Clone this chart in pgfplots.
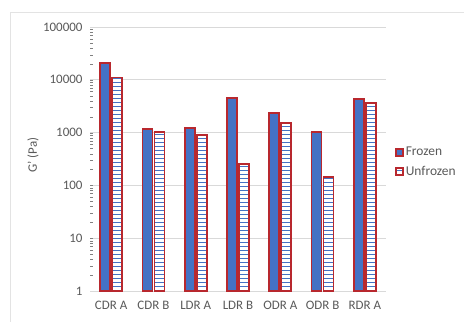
\documentclass[border=0pt]{standalone}
\usepackage{pgfplots}
\pgfplotsset{compat=1.18}
\usepackage{fontspec}
\setmainfont{Carlito}
\usetikzlibrary{patterns.meta}
\definecolor{barblue}{HTML}{4472C4}
\definecolor{baredge}{HTML}{B8282E}
\definecolor{txtgray}{HTML}{595959}
\definecolor{gridgray}{HTML}{D9D9D9}
\definecolor{framegray}{HTML}{E3E3E3}
\begin{document}
\begin{tikzpicture}[x=1bp,y=1bp]
\useasboundingbox (0,0) rectangle (464,322);
\draw[framegray, line width=0.8bp] (10,310) -- (464,310);
\draw[framegray, line width=0.8bp] (10,310) -- (10,0);
\begin{axis}[
  at={(90bp,31bp)}, anchor=south west,
  scale only axis, width=296bp, height=264bp,
  ymode=log, log origin=infty,
  ymin=1, ymax=100000,
  xmin=-0.5, xmax=6.5,
  ybar=2bp, bar width=10bp,
  xtick=data,
  xticklabels={CDR A,CDR B,LDR A,LDR B,ODR A,ODR B,RDR A},
  ytick={1,10,100,1000,10000,100000},
  yticklabels={1,10,100,1000,10000,100000},
  major tick length=0pt,
  axis x line*=bottom, axis y line*=left,
  separate axis lines,
  x axis line style={draw=gridgray, line width=0.8bp, -},
  y axis line style={draw=none},
  ymajorgrids, grid style={gridgray, line width=0.8bp},
  ticklabel style={font=\fontsize{13}{15}\selectfont, text=txtgray},
  yticklabel style={xshift=-4bp},
  xticklabel style={yshift=-7bp},
  legend style={draw=none, fill=none, at={(1.02,0.56)}, anchor=north west,
    font=\fontsize{13.5}{15}\selectfont, text=txtgray, row sep=5bp,
    /tikz/every even column/.append style={column sep=1bp}},
  legend cell align=left,
  legend image code/.code={\draw[#1] (0bp,-3.5bp) rectangle (7bp,3.5bp);},
]
\addplot[fill=barblue, draw=baredge, line width=1.7bp] coordinates {
 (0,20800) (1,1170) (2,1240) (3,4520) (4,2320) (5,1040) (6,4330)};
\addlegendentry{Frozen}
\addplot[fill=white, postaction={pattern={Lines[angle=0, distance=4bp, line width=0.9bp]}, pattern color=barblue}, draw=baredge, line width=1.7bp] coordinates {
 (0,11100) (1,1020) (2,910) (3,254) (4,1500) (5,146) (6,3630)};
\addlegendentry{Unfrozen}
\end{axis}
\node[rotate=90, text=txtgray, font=\fontsize{13}{15}\selectfont] at (33,167) {G' (Pa)};
\end{tikzpicture}
\end{document}
